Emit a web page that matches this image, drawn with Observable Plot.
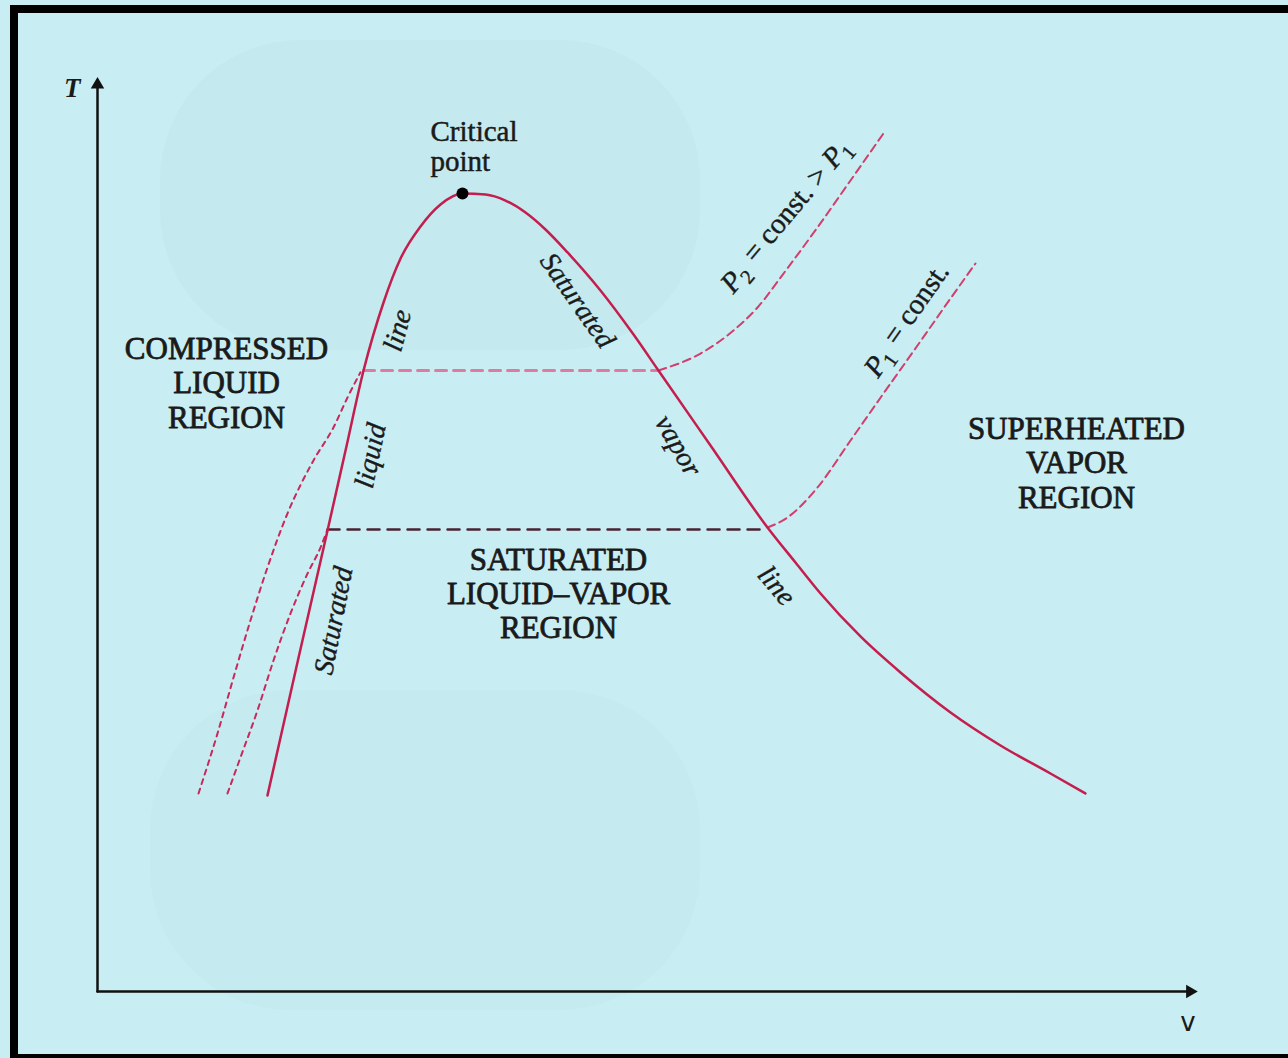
<!DOCTYPE html>
<html><head><meta charset="utf-8">
<script src="https://cdn.jsdelivr.net/npm/d3@7"></script>
<script src="https://cdn.jsdelivr.net/npm/@observablehq/plot@0.6"></script>
<style>
html,body{margin:0;padding:0;background:#c8edf2;width:1288px;height:1058px;overflow:hidden;}
#frame{position:absolute;left:10px;top:5px;width:1278px;height:1053px;box-sizing:border-box;border-top:8px solid #000;border-left:8px solid #000;border-bottom:4px solid #000;}
.blob{position:absolute;border-radius:140px;}
#chart{position:absolute;left:0;top:0;}
</style></head><body>
<div class="blob" style="left:160px;top:40px;width:540px;height:310px;background:#c4eaef;"></div>
<div class="blob" style="left:150px;top:690px;width:550px;height:320px;background:#c5ebf0;"></div>
<div id="frame"></div>
<div id="chart"></div>
<script>
// Saturation dome (v, T) in arbitrary units, ordered by increasing v
const satLiquidLine = [[15.48,21.40],[18.21,35.92],[20.95,50.33],[22.59,59.06],[24.23,67.79],[26.05,75.22],[27.60,80.02],[29.42,83.52],[31.24,85.92],[33.24,87.12]];
const satVaporLine = [[33.24,87.12],[35.34,87.01],[37.16,86.35],[38.98,85.04],[40.80,83.19],[42.81,80.68],[45.81,76.53],[48.82,71.72],[51.09,67.79],[55.83,59.61],[61.02,50.66],[63.57,46.83],[65.85,43.45],[69.49,38.76],[73.13,34.83],[77.69,30.46],[82.24,26.86],[86.79,23.80],[89.98,21.62]];
const criticalPoint = [[33.24,87.12]];
// Isobar P2 (higher pressure)
const p2Liquid = [[9.20,21.62],[10.93,28.17],[12.39,34.28],[13.93,40.50],[15.48,46.29],[17.30,52.18],[19.67,57.97],[21.49,61.57],[22.77,64.85],[23.95,67.6]];
const p2Mixture = [[24.23,67.8],[51.09,67.8]];
const p2Vapor = [[51.09,67.8],[54.92,69.65],[57.92,72.16],[60.11,74.67],[62.48,78.38],[65.57,83.41],[68.58,88.54],[71.58,93.67]];
// Isobar P1
const p1Liquid = [[11.84,21.62],[13.02,25.55],[14.57,30.68],[16.03,36.14],[17.58,41.27],[19.13,45.63],[20.31,48.47],[20.95,50.45]];
const p1Mixture = [[20.95,50.45],[61.02,50.45]];
const p1Vapor = [[61.02,50.65],[62.84,51.75],[65.57,55.02],[68.58,60.15],[71.58,65.28],[74.68,70.52],[77.69,75.66],[79.96,79.48]];
// Axes
const axisT = [[0,0],[0,99]];
const axisV = [[0,0],[99.5,0]];
// Labels
const regionLabels = [
  {text:"COMPRESSED\nLIQUID\nREGION", v:11.75, T:66.48},
  {text:"SUPERHEATED\nVAPOR\nREGION", v:89.16, T:57.75},
  {text:"SATURATED\nLIQUID–VAPOR\nREGION", v:41.99, T:43.45}
];
const curveLabels = [
  {text:"line", v:27.32, T:72.16, angle:-75},
  {text:"liquid", v:24.86, T:58.5, angle:-78},
  {text:"Saturated", v:21.49, T:40.5, angle:-79},
  {text:"Saturated", v:43.72, T:75.44, angle:55},
  {text:"vapor", v:52.91, T:59.6, angle:60},
  {text:"line", v:61.84, T:44.3, angle:50}
];
const isobarLabels = [
  {text:"P₂ = const. > P₁", v:62.84, T:84.7, angle:-50},
  {text:"P₁ = const.", v:73.77, T:73.25, angle:-55}
];
const criticalLabel = [{text:"Critical\npoint", v:30.33, T:92.25}];
const axisLabels = [{text:"T", v:-2.3, T:98.6, italic:true},{text:"v", v:99.3, T:-3.4, italic:false}];

const X = d=>d[0], Y = d=>d[1];
const serif = "Liberation Serif, Times New Roman, serif";
const ink = "#1a1a1a";
const chart = Plot.plot({
  width:1288, height:1058,
  x:{domain:[0,100], range:[97,1195], axis:null},
  y:{domain:[0,100], range:[991,75], axis:null},
  style:{background:"transparent"},
  marks:[
    Plot.line(axisT,{x:X,y:Y,stroke:"#111",strokeWidth:2.5}),
    Plot.line(axisV,{x:X,y:Y,stroke:"#111",strokeWidth:2.5}),
    Plot.dot([axisT[1]],{x:X,y:Y,symbol:"triangle",r:5,fill:"#111",stroke:"none",rotate:0}),
    Plot.dot([axisV[1]],{x:X,y:Y,symbol:"triangle",r:5,fill:"#111",stroke:"none",rotate:90}),
    Plot.line(p2Liquid,{x:X,y:Y,curve:"monotone-x",stroke:"#c8285a",strokeWidth:2,strokeDasharray:"5,5"}),
    Plot.line(p1Liquid,{x:X,y:Y,curve:"monotone-x",stroke:"#c8285a",strokeWidth:2,strokeDasharray:"5,5"}),
    Plot.line(p2Mixture,{x:X,y:Y,stroke:"#e07aa0",strokeWidth:3,strokeDasharray:"11,7"}),
    Plot.line(p1Mixture,{x:X,y:Y,stroke:"#4a2233",strokeWidth:2.5,strokeDasharray:"12,8"}),
    Plot.line(p2Vapor,{x:X,y:Y,curve:"monotone-x",stroke:"#d0406e",strokeWidth:2,strokeDasharray:"8,5"}),
    Plot.line(p1Vapor,{x:X,y:Y,curve:"monotone-x",stroke:"#d0406e",strokeWidth:2,strokeDasharray:"8,5"}),
    Plot.line(satLiquidLine.concat(satVaporLine.slice(1)),{x:X,y:Y,curve:"monotone-x",stroke:"#c41e4e",strokeWidth:2.5}),
    Plot.dot(criticalPoint,{x:X,y:Y,r:6,fill:"#000",stroke:"none"}),
    Plot.text(regionLabels,{x:"v",y:"T",text:"text",fontSize:31,lineHeight:1.1,fontFamily:serif,fill:ink,stroke:ink,strokeWidth:0.8}),
    Plot.text(criticalLabel,{x:"v",y:"T",text:"text",fontSize:29,lineHeight:1.05,textAnchor:"start",fontFamily:serif,fill:ink,stroke:ink,strokeWidth:0.5}),
    Plot.text(curveLabels,{x:"v",y:"T",text:"text",rotate:"angle",fontSize:28,fontStyle:"italic",fontFamily:serif,fill:ink,stroke:ink,strokeWidth:0.4}),
    Plot.text(isobarLabels,{x:"v",y:"T",text:"text",rotate:"angle",fontSize:29,fontFamily:serif,fill:ink,stroke:ink,strokeWidth:0.4,className:"isobar"}),
    Plot.text(axisLabels.filter(d=>d.italic),{x:"v",y:"T",text:"text",fontSize:27,fontStyle:"italic",fontWeight:"bold",fontFamily:serif,fill:ink}),
    Plot.text(axisLabels.filter(d=>!d.italic),{x:"v",y:"T",text:"text",fontSize:26,fontFamily:"DejaVu Sans, sans-serif",fill:ink})
  ]
});
// render subscripts (P₂, P₁) with italic P and lowered digit
d3.select(chart).selectAll("g.isobar text").each(function(){
  const t = d3.select(this);
  const s = t.text();
  t.text("");
  const parts = s.split(/(P[₁₂])/).filter(p=>p.length);
  parts.forEach(p=>{
    const m = p.match(/^P([₁₂])$/);
    if (m) {
      t.append("tspan").attr("font-style","italic").text("P");
      t.append("tspan").attr("dy","0.3em").attr("font-size","0.7em").text(m[1]==="₁"?"1":"2");
      t.append("tspan").attr("dy","-0.3em").text("\u200A");
    } else {
      t.append("tspan").text(p);
    }
  });
});
document.getElementById("chart").appendChild(chart);
</script></body></html>
